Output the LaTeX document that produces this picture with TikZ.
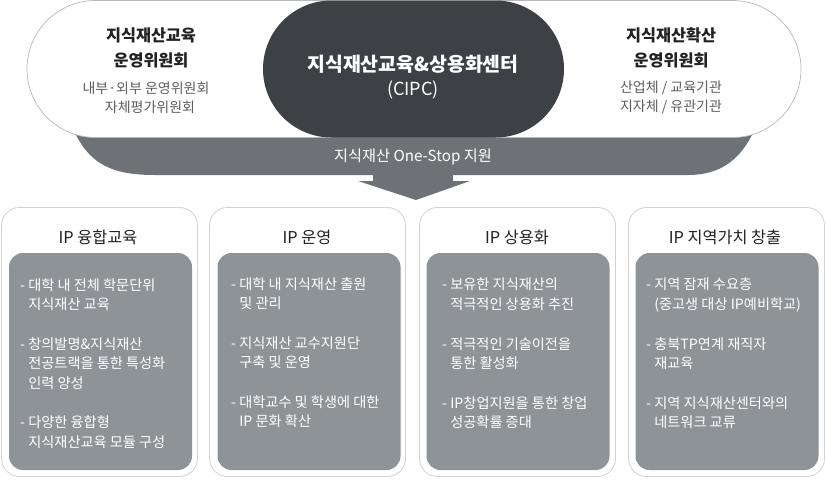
\documentclass[tikz,border=0pt]{standalone}
\usepackage{fontspec}
\setmainfont{Noto Sans CJK KR}
\definecolor{darkpill}{HTML}{3D4045}
\definecolor{bandgray}{HTML}{6E7277}
\definecolor{innergray}{HTML}{8E9398}
\definecolor{boxborder}{HTML}{D2D2D2}
\definecolor{pillborder}{HTML}{B8B8B8}
\definecolor{titletext}{HTML}{222222}
\definecolor{subtext}{HTML}{5E5E5E}
\newcommand{\myind}{\phantom{- }}
\begin{document}
\begin{tikzpicture}[x=1pt,y=-1pt,
  pill/.style={draw=pillborder, fill=white, line width=0.7pt, inner sep=0pt,
    minimum width=774pt, minimum height=137pt, rounded corners=68.5pt},
  darkpillbox/.style={fill=darkpill, inner sep=0pt,
    minimum width=301pt, minimum height=137pt, rounded corners=68.5pt},
  outerbox/.style={draw=boxborder, fill=white, line width=0.8pt, inner sep=0pt,
    minimum width=196pt, minimum height=269pt, rounded corners=18pt},
  innerbox/.style={fill=innergray, inner sep=0pt,
    minimum width=183pt, minimum height=217pt, rounded corners=14pt},
  toptitle/.style={font=\bfseries\fontsize{16.3}{19}\selectfont, text=titletext, inner sep=0pt},
  topsub/.style={font=\fontsize{14}{17}\selectfont, text=subtext, inner sep=0pt},
  ctitle/.style={font=\bfseries\fontsize{19.4}{23}\selectfont, text=white, inner sep=0pt},
  csub/.style={font=\fontsize{18}{21}\selectfont, text=white, inner sep=0pt},
  bandtext/.style={font=\fontsize{15.2}{18}\selectfont, text=white, inner sep=0pt},
  boxtitle/.style={font=\fontsize{16.3}{19}\selectfont, text=titletext, inner sep=0pt},
  bullets/.style={font=\fontsize{14.2}{19.7}\selectfont, text=white, inner sep=0pt,
    align=left, anchor=north west}
]
\useasboundingbox (0,0) rectangle (826,479);

% gray band behind the pill
\fill[bandgray] (76,110) -- (76,135)
  .. controls (92,166) and (115,175) .. (155,175)
  -- (688,175) .. controls (718,175) and (738,162) .. (752,135)
  -- (752,110) -- cycle;
% arrow
\fill[bandgray] (373,174) -- (453,174) -- (453,181) -- (470,181)
  -- (416,200) -- (358,181) -- (373,181) -- cycle;

% top pill and centre pill
\node[pill] (toppill) at (414,69) {};
\node[darkpillbox] (center) at (413.5,69) {};

% top texts
\node[toptitle] (lt1) at (151,35) {지식재산교육};
\node[toptitle] (lt2) at (151,60) {운영위원회};
\node[topsub] (ls1) at (146,88) {내부·외부 운영위원회};
\node[topsub] (ls2) at (150,107) {자체평가위원회};

\node[toptitle] (rt1) at (671,35) {지식재산확산};
\node[toptitle] (rt2) at (671,60) {운영위원회};
\node[topsub] (rs1) at (671,88) {산업체 / 교육기관};
\node[topsub] (rs2) at (671,107) {지자체 / 유관기관};

\node[ctitle] (ct1) at (413,64) {지식재산교육\&상용화센터};
\node[csub] (ct2) at (413,90) {(CIPC)};

\node[bandtext] (band) at (413,157) {지식재산 One-Stop 지원};

% lower boxes
\node[outerbox] (b1) at (99.5,342) {};
\node[outerbox] (b2) at (307.5,342) {};
\node[outerbox] (b3) at (517.5,342) {};
\node[outerbox] (b4) at (726.5,342) {};

\node[innerbox] (i1) at (100.5,361.5) {};
\node[innerbox] (i2) at (309,361.5) {};
\node[innerbox] (i3) at (518,361.5) {};
\node[innerbox] (i4) at (727,361.5) {};

\node[boxtitle] (t1) at (98,237) {IP 융합교육};
\node[boxtitle] (t2) at (307,237) {IP 운영};
\node[boxtitle] (t3) at (517,237) {IP 상용화};
\node[boxtitle] (t4) at (725,237) {IP 지역가치 창출};

\node[bullets] (l1) at (20,278) {- 대학 내 전체 학문단위\\\myind 지식재산 교육\\[19.7pt]
- 창의발명\&지식재산\\\myind 전공트랙을 통한 특성화\\\myind 인력 양성\\[19.7pt]
- 다양한 융합형\\\myind 지식재산교육 모듈 구성};

\node[bullets] (l2) at (231,277) {- 대학 내 지식재산 출원\\\myind 및 관리\\[19.7pt]
- 지식재산 교수지원단\\\myind 구축 및 운영\\[19.7pt]
- 대학교수 및 학생에 대한\\\myind IP 문화 확산};

\node[bullets] (l3) at (442,278) {- 보유한 지식재산의\\\myind 적극적인 상용화 추진\\[19.7pt]
- 적극적인 기술이전을\\\myind 통한 활성화\\[19.7pt]
- IP창업지원을 통한 창업\\\myind 성공확률 증대};

\node[bullets] (l4) at (646,278) {- 지역 잠재 수요층\\\myind(중고생 대상 IP예비학교)\\[19.7pt]
- 충북TP연계 재직자\\\myind 재교육\\[19.7pt]
- 지역 지식재산센터와의\\\myind 네트워크 교류};
\end{tikzpicture}
\end{document}
